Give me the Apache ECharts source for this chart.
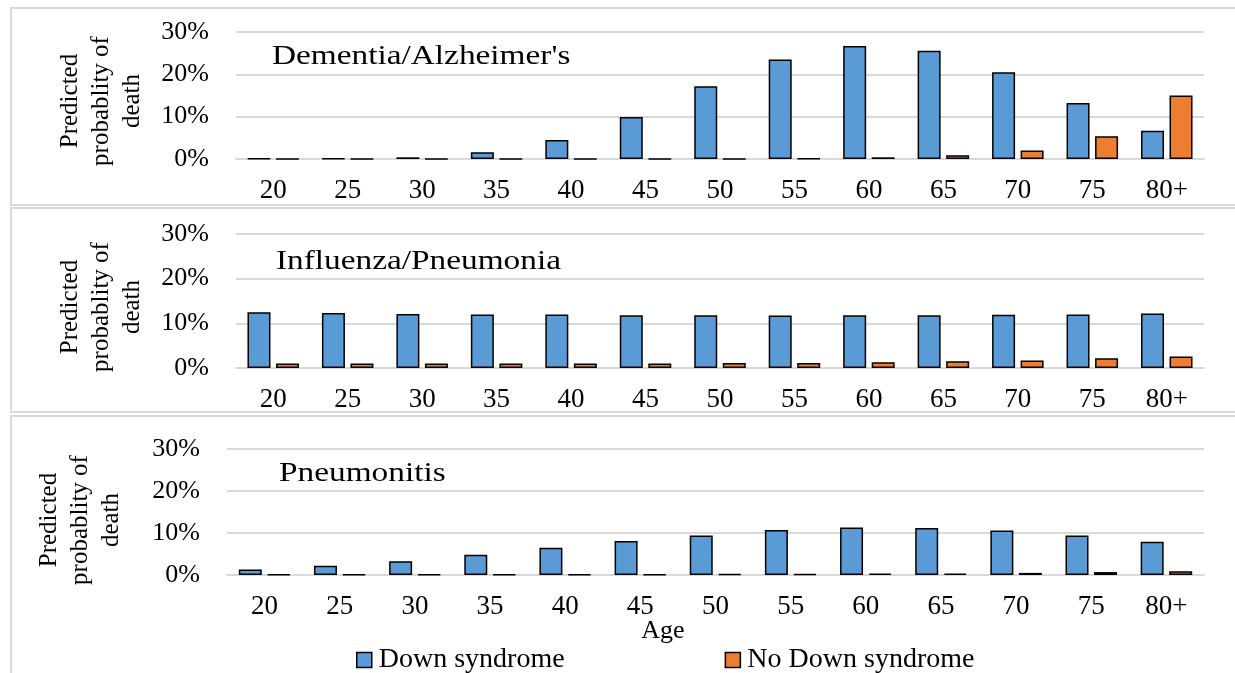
<!DOCTYPE html>
<html>
<head>
<meta charset="utf-8">
<script src="https://cdn.jsdelivr.net/npm/echarts@6/dist/echarts.min.js"></script>
<style>
html,body{margin:0;padding:0;background:#fff;}
#chart{width:1235px;height:673px;}
</style>
</head>
<body>
<div id="chart"></div>
<script>
const categories = ['20','25','30','35','40','45','50','55','60','65','70','75','80+'];
const panelTitles = ["Dementia/Alzheimer's", 'Influenza/Pneumonia', 'Pneumonitis'];
const seriesNames = ['Down syndrome', 'No Down syndrome'];
const yTicks = [0, 10, 20, 30];
const dementiaDS   = [0.1,0.1,0.4,1.6,4.5,9.9,17.2,23.5,26.7,25.6,20.5,13.2,6.7];
const dementiaNoDS = [0.05,0.05,0.05,0.05,0.05,0.05,0.05,0.1,0.4,0.9,2.0,5.4,15.0];
const fluDS   = [12.5,12.3,12.1,12.0,11.95,11.8,11.8,11.75,11.8,11.8,11.9,12.0,12.2];
const fluNoDS = [1.0,1.0,1.0,1.0,1.0,1.0,1.1,1.1,1.3,1.5,1.7,2.2,2.6];
const pneuDS   = [1.3,2.2,3.3,4.8,6.5,8.1,9.4,10.7,11.3,11.2,10.6,9.4,7.9];
const pneuNoDS = [0.15,0.15,0.15,0.15,0.15,0.15,0.2,0.2,0.3,0.3,0.5,0.7,0.9];

const FONT = 'Liberation Serif';
const panelData = [[dementiaDS, dementiaNoDS],[fluDS, fluNoDS],[pneuDS, pneuNoDS]];
const grids = [
  {left:236, right:31, top:32, height:127},
  {left:236, right:31, top:234, height:134},
  {left:227, right:31, top:449, height:126}
];
const titlePos = [[272,57],[276,262],[279,474]];
const yNamePos = [[101,101],[101,307],[80,520]];
const colors = ['#5b9bd5','#ed7d31'];

const xAxes = [], yAxes = [], series = [], graphics = [];
// panel borders
[[11,8,1300,197],[11,208,1300,204],[11,416,1300,300]].forEach(r=>{
  graphics.push({type:'rect', shape:{x:r[0],y:r[1],width:r[2],height:r[3]}, style:{fill:'none',stroke:'#d9d9d9',lineWidth:2}, z:-10, silent:true});
});
grids.forEach((g,i)=>{
  xAxes.push({type:'category', gridIndex:i, data:categories,
    axisLine:{lineStyle:{color:'#d9d9d9',width:2}}, axisTick:{show:false},
    axisLabel:{color:'#000', fontFamily:FONT, fontSize:27, margin:18, interval:0}});
  yAxes.push({type:'value', gridIndex:i, min:yTicks[0], max:yTicks[yTicks.length-1], interval:10,
    axisLine:{show:false}, axisTick:{show:false},
    splitLine:{lineStyle:{color:'#d9d9d9',width:2}},
    axisLabel:{color:'#000', fontFamily:FONT, fontSize:26, margin:27, formatter:'{value}%'}});
  panelData[i].forEach((d,k)=>{
    series.push({type:'bar', name:seriesNames[k], xAxisIndex:i, yAxisIndex:i, data:d,
      barWidth:23, barGap:'24%',
      itemStyle:{color:colors[k], borderColor:'#000', borderWidth:1.5}});
  });
  graphics.push({type:'text', x:titlePos[i][0], y:titlePos[i][1], scaleX:1.19,
    style:{text:panelTitles[i], fill:'#000', font:'28px "'+FONT+'"', textAlign:'left', textVerticalAlign:'middle'}});
  graphics.push({type:'text', x:yNamePos[i][0], y:yNamePos[i][1], rotation:Math.PI/2,
    style:{text:'Predicted\nprobablity of\ndeath', fill:'#000', font:'25px "'+FONT+'"', textAlign:'center', textVerticalAlign:'middle', lineHeight:31}});
});
graphics.push({type:'text', x:663, y:631, style:{text:'Age', fill:'#000', font:'26px "'+FONT+'"', textAlign:'center', textVerticalAlign:'middle'}});

const chart = echarts.init(document.getElementById('chart'));
chart.setOption({
  animation:false,
  backgroundColor:'#fff',
  grid:grids,
  xAxis:xAxes,
  yAxis:yAxes,
  series:series,
  legend:{data:seriesNames, left:356, top:646, padding:0, itemGap:160, icon:'rect', itemWidth:15, itemHeight:15,
    textStyle:{color:'#000', fontFamily:FONT, fontSize:28, padding:[0,0,0,2]},
    itemStyle:{borderColor:'#000', borderWidth:1.5}},
  graphic:graphics
});
</script>
</body>
</html>
